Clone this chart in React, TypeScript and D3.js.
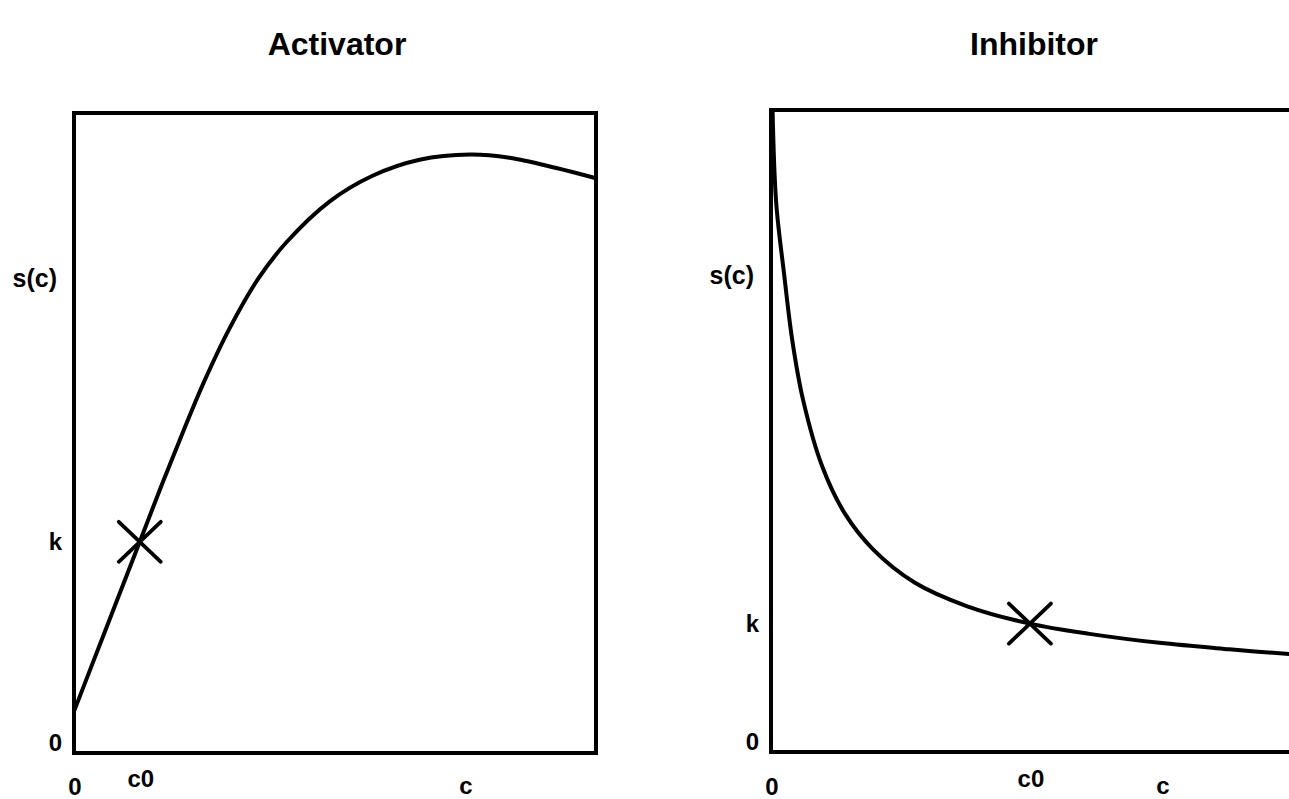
import React from "react";
import * as d3 from "d3";

// Activator response s(c): rises roughly linearly through (c0, k), peaks, then falls off.
const activatorC = [0.0, 0.55, 1.26, 1.72, 2.14, 2.48, 2.97, 3.52, 4.07, 4.9, 5.72, 6.62, 7.59, 8.34, 9.24, 10.0];
const activatorS = [0.65, 1.81, 3.3, 4.27, 5.12, 5.78, 6.62, 7.4, 7.98, 8.62, 9.02, 9.27, 9.35, 9.3, 9.14, 8.98];

// Inhibitor response s(c): steep drop from the top, then a slow tail through (c0, k).
const inhibitorC = [0.03, 0.1, 0.25, 0.41, 0.61, 0.98, 1.41, 1.95, 2.75, 3.76, 4.96, 6.1, 7.44, 8.78, 10.0];
const inhibitorS = [10.0, 8.55, 7.45, 6.4, 5.5, 4.45, 3.72, 3.16, 2.64, 2.27, 2.0, 1.84, 1.7, 1.6, 1.52];

// Operating points marked with a cross
const activatorPoint = { c0: 1.26, k: 3.3 };
const inhibitorPoint = { c0: 4.96, k: 2.0 };

const panelTitles = ["Activator", "Inhibitor"];
const yAxisLabel = "s(c)";
const xAxisLabel = "c";
const xTickNames = ["0", "c0"];
const yTickNames = ["0", "k"];

const domainC: [number, number] = [0, 10];
const domainS: [number, number] = [0, 10];

type Panel = {
  title: string;
  c: number[];
  s: number[];
  point: { c0: number; k: number };
  x0: number;
  x1: number;
  y0: number;
  y1: number;
};

const panels: Panel[] = [
  { title: panelTitles[0], c: activatorC, s: activatorS, point: activatorPoint, x0: 74, x1: 596, y0: 113, y1: 753 },
  { title: panelTitles[1], c: inhibitorC, s: inhibitorS, point: inhibitorPoint, x0: 771, x1: 1293, y0: 110, y1: 752 },
];

const FONT = "'Liberation Sans', Arial, Helvetica, sans-serif";

function PanelView({ p }: { p: Panel }) {
  const x = d3.scaleLinear().domain(domainC).range([p.x0, p.x1]);
  const y = d3.scaleLinear().domain(domainS).range([p.y1, p.y0]);
  const pts: [number, number][] = p.c.map((c, i) => [c, p.s[i]]);
  const line = d3
    .line<[number, number]>()
    .x((d) => x(d[0]))
    .y((d) => y(d[1]))
    .curve(d3.curveCatmullRom.alpha(0.5));

  const cx = x(p.point.c0);
  const cy = y(p.point.k);
  const arm = 21;

  const xTickVals = [0, p.point.c0];
  const yTickVals = [0, p.point.k];

  return (
    <g>
      <text
        x={(p.x0 + p.x1) / 2 + 2}
        y={55}
        textAnchor="middle"
        fontFamily={FONT}
        fontWeight="bold"
        fontSize={32}
      >
        {p.title}
      </text>

      <path d={line(pts) || ""} fill="none" stroke="#000" strokeWidth={4} strokeLinejoin="round" />

      <rect
        x={p.x0}
        y={p.y0}
        width={p.x1 - p.x0}
        height={p.y1 - p.y0}
        fill="none"
        stroke="#000"
        strokeWidth={4}
      />

      <line x1={cx - arm} y1={cy - arm + 1} x2={cx + arm} y2={cy + arm - 1} stroke="#000" strokeWidth={3.8} strokeLinecap="round" />
      <line x1={cx - arm} y1={cy + arm - 1} x2={cx + arm} y2={cy - arm + 1} stroke="#000" strokeWidth={3.8} strokeLinecap="round" />

      {/* y-axis label and ticks */}
      <text
        x={p.x0 - 17}
        y={y(7.42)}
        dy="0.35em"
        textAnchor="end"
        fontFamily={FONT}
        fontWeight="bold"
        fontSize={25}
      >
        {yAxisLabel}
      </text>
      {yTickVals.map((v, i) => (
        <text
          key={"yt" + i}
          x={p.x0 - 12}
          y={v === 0 ? y(v) - 2 : y(v)}
          dy={v === 0 ? 0 : "0.35em"}
          textAnchor="end"
          fontFamily={FONT}
          fontWeight="bold"
          fontSize={24}
        >
          {yTickNames[i]}
        </text>
      ))}

      {/* x-axis ticks and label */}
      {xTickVals.map((v, i) => (
        <text
          key={"xt" + i}
          x={x(v) + 1}
          y={i === 0 ? 795 : 787}
          textAnchor="middle"
          fontFamily={FONT}
          fontWeight="bold"
          fontSize={24}
        >
          {xTickNames[i]}
        </text>
      ))}
      <text
        x={p.x0 + 392}
        y={794}
        textAnchor="middle"
        fontFamily={FONT}
        fontWeight="bold"
        fontSize={24}
      >
        {xAxisLabel}
      </text>
    </g>
  );
}

export default function App() {
  return (
    <svg
      width={1289}
      height={799}
      viewBox="0 0 1289 799"
      style={{ position: "absolute", left: 0, top: 0, background: "#fff", overflow: "hidden" }}
    >
      <rect x={0} y={0} width={1289} height={799} fill="#fff" />
      {panels.map((p) => (
        <PanelView key={p.title} p={p} />
      ))}
    </svg>
  );
}
